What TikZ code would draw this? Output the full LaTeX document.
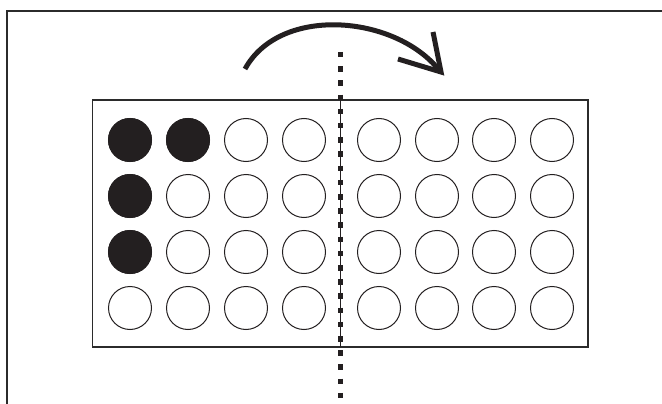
\documentclass[tikz,border=0pt]{standalone}
\usepackage{xcolor}
\usepackage{tikz}
\definecolor{PlateInk}{HTML}{231F20}
\definecolor{PlateFrame}{HTML}{2B2B2B}

\begin{document}
\begin{tikzpicture}[x=1pt,y=-1pt]
\path[use as bounding box] (0,0) rectangle (662,404);
\draw[PlateFrame,line width=1.4pt] (7,404) -- (7,11) -- (662,11);
\draw[PlateFrame,line width=1.4pt] (92.5,100) rectangle (588,347);
\draw[PlateInk,line width=1pt] (340.5,100) -- (340.5,347);
\foreach \cx in {130,188,246,304,379,437,494,552}
  \foreach \cy in {140,196,252,308}
    \draw[PlateInk,line width=1pt] (\cx,\cy) circle (21.5);
\fill[PlateInk] (130,140) circle (22);
\fill[PlateInk] (188,140) circle (22);
\fill[PlateInk] (130,196) circle (22);
\fill[PlateInk] (130,252) circle (22);
\draw[PlateInk,line width=5.5pt,dash pattern=on 5.5pt off 8.7pt] (340.5,52) -- (340.5,404);
\draw[PlateInk,line width=5pt] (245,69) .. controls (280,5) and (395,15) .. (439,70);
\draw[PlateInk,line width=5pt,line join=miter] (433,32) -- (441,72) -- (398,59);
\end{tikzpicture}
\end{document}
